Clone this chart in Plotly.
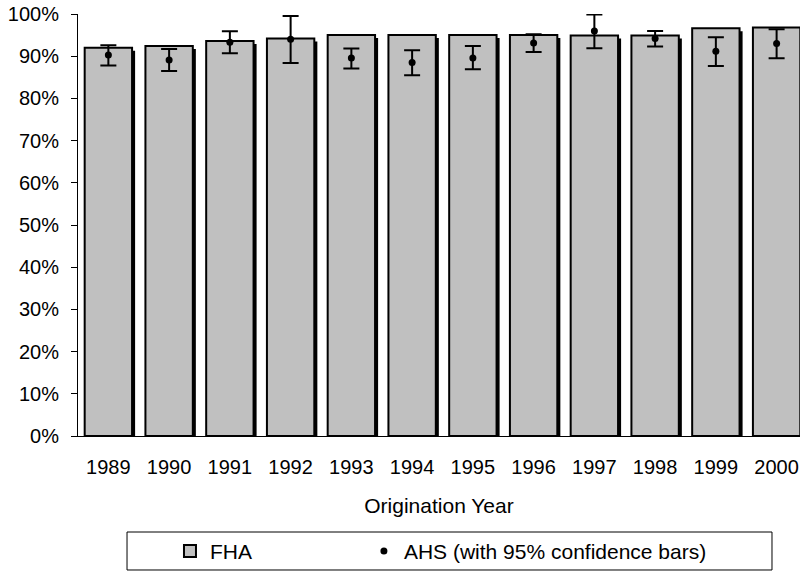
import plotly.graph_objects as go

years = ["1989", "1990", "1991", "1992", "1993", "1994", "1995", "1996", "1997", "1998", "1999", "2000"]
fha = [0.920, 0.924, 0.936, 0.942, 0.950, 0.950, 0.950, 0.950, 0.949, 0.949, 0.966, 0.968]
ahs = [0.903, 0.891, 0.933, 0.940, 0.896, 0.885, 0.896, 0.931, 0.960, 0.942, 0.912, 0.930]
ahs_hi = [0.926, 0.917, 0.959, 0.995, 0.918, 0.914, 0.924, 0.952, 0.999, 0.960, 0.945, 0.964]
ahs_lo = [0.878, 0.865, 0.907, 0.884, 0.871, 0.855, 0.869, 0.910, 0.919, 0.923, 0.877, 0.895]

FONT = "Liberation Sans, Arial, sans-serif"
shadow_drop = 0.007

fig = go.Figure()

# Excel-style drop shadow behind the bars
fig.add_trace(go.Bar(
    x=years, y=[v - shadow_drop for v in fha],
    width=0.78, offset=-0.34,
    marker=dict(color="black", line=dict(width=0)),
    showlegend=False, hoverinfo="skip"
))
fig.add_trace(go.Bar(
    x=years, y=fha, name="FHA",
    width=0.78, offset=-0.39,
    marker=dict(color="#c0c0c0", line=dict(color="black", width=2))
))
fig.add_trace(go.Scatter(
    x=years, y=ahs, mode="markers", name="AHS (with 95% confidence bars)",
    legend="legend2",
    marker=dict(color="black", size=7),
    error_y=dict(type="data", symmetric=False,
                 array=[h - m for h, m in zip(ahs_hi, ahs)],
                 arrayminus=[m - l for m, l in zip(ahs, ahs_lo)],
                 color="black", thickness=2, width=8)
))

leg = dict(orientation="h", xanchor="left", y=-0.225, yanchor="top",
           bgcolor="rgba(0,0,0,0)", borderwidth=0,
           font=dict(family=FONT, size=21, color="black"))

fig.update_layout(
    width=801, height=571,
    margin=dict(l=78, r=1, t=14, b=135, autoexpand=False),
    barmode="overlay",
    plot_bgcolor="white", paper_bgcolor="white",
    font=dict(family=FONT, size=20, color="black"),
    showlegend=True,
    legend=dict(leg, x=0.1274),
    legend2=dict(leg, x=0.396),
    shapes=[dict(type="rect", xref="paper", yref="paper",
                 x0=0.0679, x1=0.9612, y0=-0.3175, y1=-0.2275,
                 line=dict(color="black", width=1), fillcolor="rgba(0,0,0,0)")],
)
fig.update_xaxes(
    range=[-0.5, 11.385], showline=True, linecolor="black", linewidth=1,
    ticks="", ticklabelstandoff=13,
    title=dict(text="Origination Year", standoff=21, font=dict(size=21))
)
fig.update_yaxes(
    range=[0, 1], tickformat=".0%", dtick=0.1,
    showline=True, linecolor="black", linewidth=1, showgrid=False, zeroline=False,
    ticks="outside", ticklen=6, tickcolor="black", ticklabelstandoff=8
)
# second axis only to draw the inner half of the crossing tick marks
fig.update_layout(yaxis2=dict(overlaying="y", side="left", range=[0, 1], dtick=0.1,
                              ticks="inside", ticklen=6, tickcolor="black",
                              showticklabels=False, showgrid=False, zeroline=False,
                              showline=False))

fig.write_html("out.html", config={"displayModeBar": False},
               post_script="document.body.style.margin='0px';")
